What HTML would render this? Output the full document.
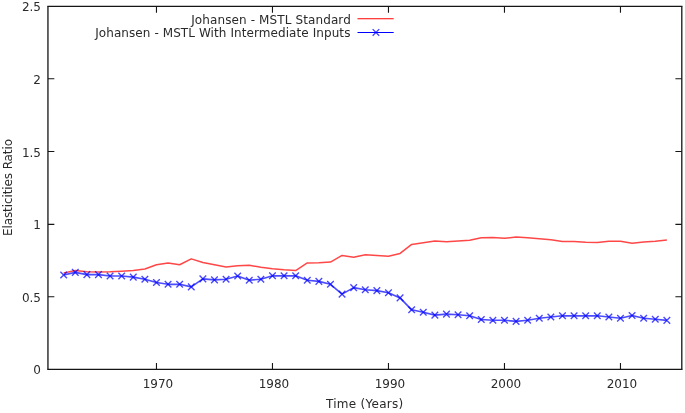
<!DOCTYPE html>
<html lang="en"><head><meta charset="utf-8"><title>Elasticities Ratio</title>
<style>html,body{margin:0;padding:0;background:#fff}svg{display:block;will-change:transform}.t{filter:grayscale(1)}text{font-family:"DejaVu Sans","Liberation Sans",sans-serif;font-size:12px;fill:#2a2a2a}</style></head><body>
<svg width="685" height="413" viewBox="0 0 685 413">
<rect width="685" height="413" fill="#fff"/>
<g>
<g fill="none" stroke="#151515">
<path stroke-width="1.1" d="M47.3 6.42H682.45 M47.3 369.4H682.45 M47.95 296.80h6.4 M681.8 296.80h-6.4 M47.95 224.42h6.4 M681.8 224.42h-6.4 M47.95 151.50h6.4 M681.8 151.50h-6.4 M47.95 78.72h6.4 M681.8 78.72h-6.4"/>
<path stroke-width="1.3" d="M47.95 6.42V369.4 M681.8 6.42V369.4"/>
<path stroke-width="1.1" d="M156.47 369.4v-6.4 M156.47 6.42v6.4 M272.47 369.4v-6.4 M272.47 6.42v6.4 M388.47 369.4v-6.4 M388.47 6.42v6.4 M504.47 369.4v-6.4 M504.47 6.42v6.4 M620.47 369.4v-6.4 M620.47 6.42v6.4"/>
</g>
<g class="t">
<text x="41" y="374.30" text-anchor="end">0</text>
<text x="41" y="301.70" text-anchor="end">0.5</text>
<text x="41" y="229.11" text-anchor="end">1</text>
<text x="41" y="156.51" text-anchor="end">1.5</text>
<text x="41" y="83.92" text-anchor="end">2</text>
<text x="41" y="11.32" text-anchor="end">2.5</text>
<text x="157.97" y="388.3" text-anchor="middle">1970</text>
<text x="273.97" y="388.3" text-anchor="middle">1980</text>
<text x="389.97" y="388.3" text-anchor="middle">1990</text>
<text x="505.97" y="388.3" text-anchor="middle">2000</text>
<text x="621.97" y="388.3" text-anchor="middle">2010</text>
<text x="364.6" y="407.5" text-anchor="middle" textLength="77.3">Time (Years)</text>
<text transform="translate(12.2 187.5) rotate(-90)" text-anchor="middle" textLength="97.1">Elasticities Ratio</text>
<text x="350.8" y="23.6" text-anchor="end" textLength="159.6">Johansen - MSTL Standard</text>
<text x="350.4" y="37.3" text-anchor="end" textLength="255.2">Johansen - MSTL With Intermediate Inputs</text>
</g>
<path d="M357.5 18.75H393.7" stroke="#ff0000" stroke-width="1" fill="none"/>
<path d="M357.5 32.48H393.7" stroke="#0000ff" stroke-width="1.05" fill="none"/>
<path d="M372.65 29.10l6.6 6.6M372.65 35.70l6.6 -6.6" stroke="#0000ff" stroke-opacity="0.75" stroke-width="1.3" fill="none"/>
<path d="M63.67 272.95 L75.27 270.45 L86.87 271.85 L98.47 271.95 L110.07 271.85 L121.67 271.25 L133.27 270.45 L144.87 268.95 L156.47 264.75 L168.07 262.95 L179.67 264.75 L191.27 258.85 L202.87 262.55 L214.47 264.75 L226.07 266.95 L237.67 265.85 L249.27 265.15 L260.87 267.35 L272.47 268.85 L284.07 269.85 L295.67 270.55 L307.27 262.95 L318.87 262.65 L330.47 262.05 L342.07 255.45 L353.67 257.35 L365.27 254.85 L376.87 255.45 L388.47 256.35 L400.07 253.45 L411.67 244.45 L423.27 242.75 L434.87 241.05 L446.47 241.75 L458.07 241.05 L469.67 240.25 L481.27 237.65 L492.87 237.45 L504.47 238.35 L516.07 237.05 L527.67 237.65 L539.27 238.85 L550.87 239.85 L562.47 241.45 L574.07 241.45 L585.67 242.15 L597.27 242.45 L608.87 241.25 L620.47 241.25 L632.07 243.15 L643.67 242.05 L655.27 241.25 L666.87 239.95" stroke="#ff0000" stroke-opacity="0.72" stroke-width="1.5" fill="none" stroke-linejoin="round"/>
<path d="M63.67 274.95 L75.27 272.35 L86.87 274.65 L98.47 274.65 L110.07 276.00 L121.67 276.00 L133.27 277.10 L144.87 279.20 L156.47 282.50 L168.07 284.30 L179.67 284.30 L191.27 286.90 L202.87 278.90 L214.47 279.90 L226.07 279.20 L237.67 276.00 L249.27 280.20 L260.87 279.20 L272.47 275.80 L284.07 275.80 L295.67 275.80 L307.27 280.20 L318.87 281.40 L330.47 284.30 L342.07 294.10 L353.67 287.60 L365.27 289.80 L376.87 290.60 L388.47 292.70 L400.07 297.90 L411.67 309.80 L423.27 312.20 L434.87 315.10 L446.47 314.10 L458.07 314.80 L469.67 315.80 L481.27 319.50 L492.87 320.20 L504.47 320.20 L516.07 321.40 L527.67 320.20 L539.27 318.20 L550.87 317.00 L562.47 315.80 L574.07 315.80 L585.67 315.80 L597.27 315.80 L608.87 317.00 L620.47 318.20 L632.07 315.50 L643.67 318.20 L655.27 319.20 L666.87 320.40" stroke="#0000ff" stroke-opacity="0.7" stroke-width="1.65" fill="none" stroke-linejoin="round"/>
<path d="M60.37 271.65l6.6 6.6M60.37 278.25l6.6 -6.6 M71.97 269.05l6.6 6.6M71.97 275.65l6.6 -6.6 M83.57 271.35l6.6 6.6M83.57 277.95l6.6 -6.6 M95.17 271.35l6.6 6.6M95.17 277.95l6.6 -6.6 M106.77 272.70l6.6 6.6M106.77 279.30l6.6 -6.6 M118.37 272.70l6.6 6.6M118.37 279.30l6.6 -6.6 M129.97 273.80l6.6 6.6M129.97 280.40l6.6 -6.6 M141.57 275.90l6.6 6.6M141.57 282.50l6.6 -6.6 M153.17 279.20l6.6 6.6M153.17 285.80l6.6 -6.6 M164.77 281.00l6.6 6.6M164.77 287.60l6.6 -6.6 M176.37 281.00l6.6 6.6M176.37 287.60l6.6 -6.6 M187.97 283.60l6.6 6.6M187.97 290.20l6.6 -6.6 M199.57 275.60l6.6 6.6M199.57 282.20l6.6 -6.6 M211.17 276.60l6.6 6.6M211.17 283.20l6.6 -6.6 M222.77 275.90l6.6 6.6M222.77 282.50l6.6 -6.6 M234.37 272.70l6.6 6.6M234.37 279.30l6.6 -6.6 M245.97 276.90l6.6 6.6M245.97 283.50l6.6 -6.6 M257.57 275.90l6.6 6.6M257.57 282.50l6.6 -6.6 M269.17 272.50l6.6 6.6M269.17 279.10l6.6 -6.6 M280.77 272.50l6.6 6.6M280.77 279.10l6.6 -6.6 M292.37 272.50l6.6 6.6M292.37 279.10l6.6 -6.6 M303.97 276.90l6.6 6.6M303.97 283.50l6.6 -6.6 M315.57 278.10l6.6 6.6M315.57 284.70l6.6 -6.6 M327.17 281.00l6.6 6.6M327.17 287.60l6.6 -6.6 M338.77 290.80l6.6 6.6M338.77 297.40l6.6 -6.6 M350.37 284.30l6.6 6.6M350.37 290.90l6.6 -6.6 M361.97 286.50l6.6 6.6M361.97 293.10l6.6 -6.6 M373.57 287.30l6.6 6.6M373.57 293.90l6.6 -6.6 M385.17 289.40l6.6 6.6M385.17 296.00l6.6 -6.6 M396.77 294.60l6.6 6.6M396.77 301.20l6.6 -6.6 M408.37 306.50l6.6 6.6M408.37 313.10l6.6 -6.6 M419.97 308.90l6.6 6.6M419.97 315.50l6.6 -6.6 M431.57 311.80l6.6 6.6M431.57 318.40l6.6 -6.6 M443.17 310.80l6.6 6.6M443.17 317.40l6.6 -6.6 M454.77 311.50l6.6 6.6M454.77 318.10l6.6 -6.6 M466.37 312.50l6.6 6.6M466.37 319.10l6.6 -6.6 M477.97 316.20l6.6 6.6M477.97 322.80l6.6 -6.6 M489.57 316.90l6.6 6.6M489.57 323.50l6.6 -6.6 M501.17 316.90l6.6 6.6M501.17 323.50l6.6 -6.6 M512.77 318.10l6.6 6.6M512.77 324.70l6.6 -6.6 M524.37 316.90l6.6 6.6M524.37 323.50l6.6 -6.6 M535.97 314.90l6.6 6.6M535.97 321.50l6.6 -6.6 M547.57 313.70l6.6 6.6M547.57 320.30l6.6 -6.6 M559.17 312.50l6.6 6.6M559.17 319.10l6.6 -6.6 M570.77 312.50l6.6 6.6M570.77 319.10l6.6 -6.6 M582.37 312.50l6.6 6.6M582.37 319.10l6.6 -6.6 M593.97 312.50l6.6 6.6M593.97 319.10l6.6 -6.6 M605.57 313.70l6.6 6.6M605.57 320.30l6.6 -6.6 M617.17 314.90l6.6 6.6M617.17 321.50l6.6 -6.6 M628.77 312.20l6.6 6.6M628.77 318.80l6.6 -6.6 M640.37 314.90l6.6 6.6M640.37 321.50l6.6 -6.6 M651.97 315.90l6.6 6.6M651.97 322.50l6.6 -6.6 M663.57 317.10l6.6 6.6M663.57 323.70l6.6 -6.6" stroke="#0000ff" stroke-opacity="0.72" stroke-width="1.35" fill="none"/>
</g>
</svg></body></html>
